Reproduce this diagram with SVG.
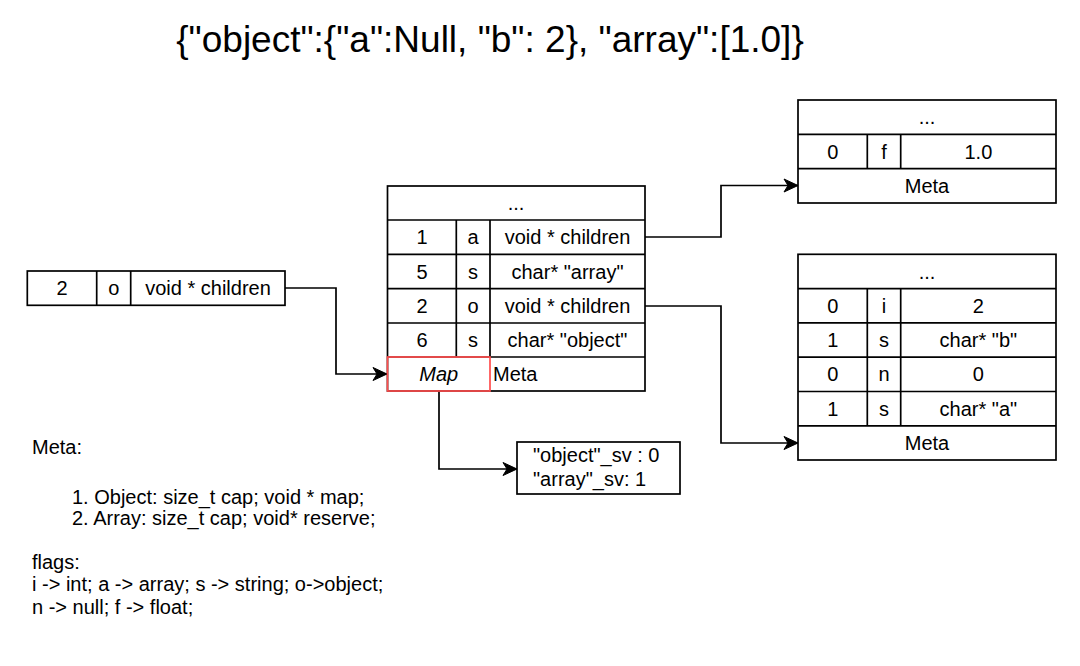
<svg xmlns="http://www.w3.org/2000/svg" width="1080" height="666" viewBox="0 0 1080 666">
<style>
text{font-family:"Liberation Sans",Arial,Helvetica,sans-serif;font-size:20px;fill:#000}
.c{text-anchor:middle}
.box{fill:#fff;stroke:#000;stroke-width:1.7}
.ln{stroke:#000;stroke-width:1.7;fill:none}
.red{fill:none;stroke:#ff4d4d;stroke-width:1.7}
.conn{stroke:#000;stroke-width:1.7;fill:none;marker-end:url(#arr)}
</style>
<defs>
<marker id="arr" markerUnits="userSpaceOnUse" viewBox="-15 -8 16 16" refX="0" refY="0" markerWidth="16" markerHeight="16" orient="auto">
<path d="M0,0 L-14,-6.5 L-10,0 L-14,6.5 Z" fill="#000" stroke="#000" stroke-width="1"/>
</marker>
</defs>
<rect width="1080" height="666" fill="#fff"/>
<g id="title"><text x="490" y="52" class="c" style="font-size:37px">{"object":{"a":Null, "b": 2}, "array":[1.0]}</text></g>

<g id="connectors">
<path class="conn" d="M285,288 H336 V374 H387"/>
<path class="conn" d="M645,237 H721 V185.5 H798"/>
<path class="conn" d="M645,306 H721 V443 H798"/>
<path class="conn" d="M439,391 V469 H517"/>
</g>

<g id="node-root">
<rect class="box" x="27.3" y="271" width="257.7" height="34.3"/>
<path class="ln" d="M96.7,271 V305.3 M130.7,271 V305.3"/>
<text x="62" y="295" class="c">2</text>
<text x="113.7" y="295" class="c">o</text>
<text x="208" y="295" class="c">void * children</text>
</g>

<g id="node-object-table">
<rect class="box" x="387.5" y="186" width="257.5" height="205"/>
<path class="ln" d="M387.5,220 H645 M387.5,254.3 H645 M387.5,288.7 H645 M387.5,323 H645 M387.5,357 H645 M456.3,220 V357 M490,220 V357"/>
<text x="516" y="210" class="c">...</text>
<text x="422" y="244" class="c">1</text><text x="473" y="244" class="c">a</text><text x="567.5" y="244" class="c">void * children</text>
<text x="422" y="278.5" class="c">5</text><text x="473" y="278.5" class="c">s</text><text x="567.5" y="278.5" class="c">char* "array"</text>
<text x="422" y="313" class="c">2</text><text x="473" y="313" class="c">o</text><text x="567.5" y="313" class="c">void * children</text>
<text x="422" y="347" class="c">6</text><text x="473" y="347" class="c">s</text><text x="567.5" y="347" class="c">char* "object"</text>
<text x="493" y="381">Meta</text>
</g>

<g id="node-map">
<rect class="red" x="387.5" y="357" width="102.5" height="34"/>
<text x="438.7" y="381" class="c" style="font-style:italic">Map</text>
</g>

<g id="node-array">
<rect class="box" x="798" y="100" width="258" height="103"/>
<path class="ln" d="M798,134.3 H1056 M798,168.6 H1056 M867.3,134.3 V168.6 M900.7,134.3 V168.6"/>
<text x="927" y="124" class="c">...</text>
<text x="832.7" y="158.5" class="c">0</text><text x="884" y="158.5" class="c">f</text><text x="978.4" y="158.5" class="c">1.0</text>
<text x="927" y="193" class="c">Meta</text>
</g>

<g id="node-object-children">
<rect class="box" x="798" y="254.3" width="258" height="205.7"/>
<path class="ln" d="M798,288.6 H1056 M798,322.9 H1056 M798,357.2 H1056 M798,391.5 H1056 M798,425.8 H1056 M867.3,288.6 V425.8 M900.7,288.6 V425.8"/>
<text x="927" y="278.5" class="c">...</text>
<text x="832.7" y="312.7" class="c">0</text><text x="884" y="312.7" class="c">i</text><text x="978.4" y="312.7" class="c">2</text>
<text x="832.7" y="347" class="c">1</text><text x="884" y="347" class="c">s</text><text x="978.4" y="347" class="c">char* "b"</text>
<text x="832.7" y="381.3" class="c">0</text><text x="884" y="381.3" class="c">n</text><text x="978.4" y="381.3" class="c">0</text>
<text x="832.7" y="415.6" class="c">1</text><text x="884" y="415.6" class="c">s</text><text x="978.4" y="415.6" class="c">char* "a"</text>
<text x="927" y="450" class="c">Meta</text>
</g>

<g id="node-sv">
<rect class="box" x="517" y="442" width="163" height="52"/>
<text x="533" y="462">"object"_sv : 0</text>
<text x="533" y="486">"array"_sv: 1</text>
</g>

<g id="node-legend">
<text x="32" y="454">Meta:</text>
<text x="72" y="504">1. Object: size_t cap; void * map;</text>
<text x="72" y="525">2. Array: size_t cap; void* reserve;</text>
<text x="32" y="569">flags:</text>
<text x="32" y="591">i -&gt; int; a -&gt; array; s -&gt; string; o-&gt;object;</text>
<text x="32" y="614">n -&gt; null; f -&gt; float;</text>
</g>
</svg>
